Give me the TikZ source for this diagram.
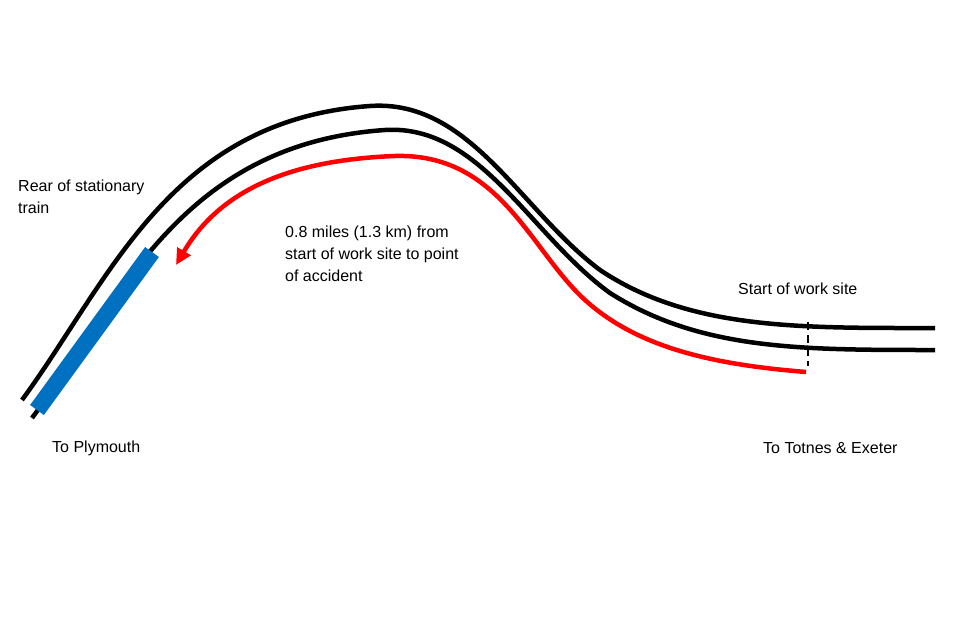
\documentclass[tikz,border=0pt]{standalone}
\usepackage{fontspec}
\setmainfont{Liberation Sans}
\usetikzlibrary{arrows.meta}
\definecolor{trainblue}{RGB}{0,112,192}
\tikzset{
 track/.style={line width=4.5pt},
 route/.style={line width=4.5pt,red,-{Triangle[length=16pt,width=15pt]}},
 lbl/.style={anchor=north west,align=left,inner sep=0pt,font=\fontsize{16}{22}\selectfont}
}
\begin{document}
\begin{tikzpicture}[x=1pt,y=-1pt]
 \useasboundingbox (0,0) rectangle (960,640);
 % tracks
 \draw[track] (22,400) .. controls (110,280) and (170,120) .. (370,106)
   .. controls (470,99) and (520,210) .. (600,270)
   .. controls (690,330) and (800,328) .. (935,328);
 \draw[track] (32,418) .. controls (120,300) and (180,144) .. (385,130)
   .. controls (480,124) and (530,235) .. (610,293)
   .. controls (700,350) and (800,350) .. (935,350);
 \draw[trainblue,line width=17pt] (37,410) -- (152,252); %train
 % route
 \draw[route] (806,372) .. controls (720,365) and (640,350) .. (585,300)
   .. controls (530,250) and (500,153) .. (395,156)
   .. controls (290,160) and (220,190) .. (176,265);
 \draw[line width=2.5pt,dash pattern=on 8pt off 5pt] (808,322) -- (808,366);
 % labels
 \node[lbl] (rear) at (18,180) {Rear of stationary\\train};
 \node[lbl] (dist) at (285,226) {0.8 miles (1.3 km) from\\start of work site to point\\of accident};
 \node[lbl] (site) at (738,283) {Start of work site};
 \node[lbl] (plym) at (52,441) {To Plymouth};
 \node[lbl] (exet) at (763,442) {To Totnes \& Exeter};
\end{tikzpicture}
\end{document}
